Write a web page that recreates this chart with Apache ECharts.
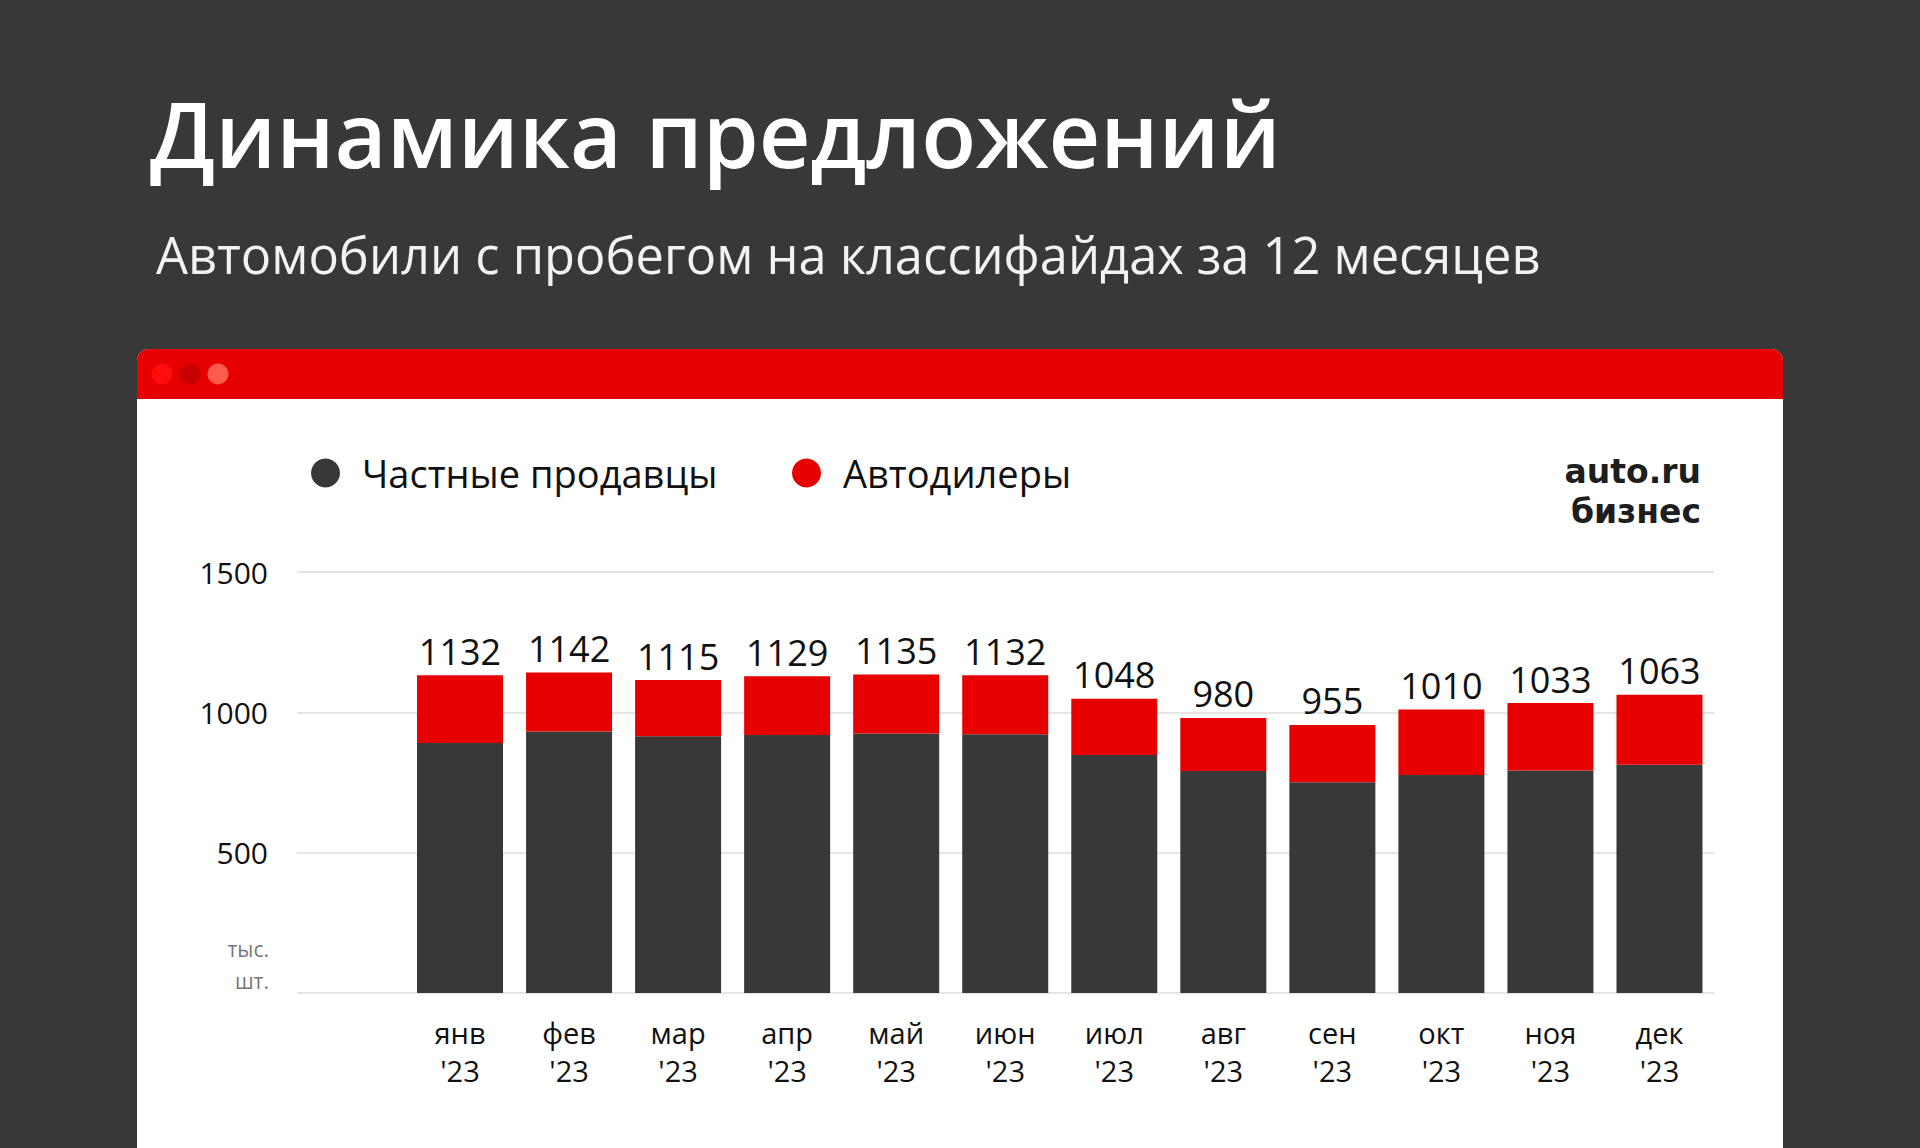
<!DOCTYPE html>
<html><head><meta charset="utf-8">
<script src="https://cdn.jsdelivr.net/npm/echarts@6/dist/echarts.min.js"></script>
<style>html,body{margin:0;padding:0;background:#383838;}#c{width:1920px;height:1148px;}</style>
</head><body><div id="c"></div>
<script>
const months = ['янв','фев','мар','апр','май','июн','июл','авг','сен','окт','ноя','дек'];
const yearLabel = "'23";
const privateSellers = [891, 932, 915, 919, 925, 922, 848, 791, 751, 777, 793, 813];
const dealers = [241, 210, 200, 210, 210, 210, 200, 189, 204, 233, 240, 250];
const totals = [1132, 1142, 1115, 1129, 1135, 1132, 1048, 980, 955, 1010, 1033, 1063];
const seriesNames = ['Частные продавцы', 'Автодилеры'];
const titleText = 'Динамика предложений';
const subtitleText = 'Автомобили с пробегом на классифайдах за 12 месяцев';
const unitLines = ['тыс.', 'шт.'];
const logoLines = ['auto.ru', 'бизнес'];
const yMin = 0, yMax = 1500, yStep = 500;

const categories = months.map(m => m + '\n' + yearLabel);
const FONT = '"Open Sans", "Noto Sans", sans-serif';
const LOGO_FONT = '"DejaVu Sans", "Open Sans", sans-serif';
const DARK = '#383838', RED = '#e60000';

const chart = echarts.init(document.getElementById('c'), null, {renderer: 'svg', width: 1920, height: 1148});
const option = {
  backgroundColor: DARK,
  textStyle: {fontFamily: FONT},
  animation: false,
  graphic: [
    {type: 'rect', z: -100, shape: {x: 137, y: 349, width: 1646, height: 900, r: [12, 12, 0, 0]}, style: {fill: '#ffffff'}},
    {type: 'rect', z: -99, shape: {x: 137, y: 349, width: 1646, height: 50, r: [12, 12, 0, 0]}, style: {fill: RED}},
    {type: 'circle', z: -98, shape: {cx: 162, cy: 374, r: 10.5}, style: {fill: '#ff0d0d'}},
    {type: 'circle', z: -98, shape: {cx: 190, cy: 374, r: 10.5}, style: {fill: '#c80000'}},
    {type: 'circle', z: -98, shape: {cx: 218, cy: 374, r: 10.5}, style: {fill: '#ff5a4c'}},
    {type: 'text', x: 150, y: 133, style: {text: titleText, fontFamily: FONT, fontSize: 90, fontWeight: 600, fill: '#ffffff', verticalAlign: 'middle'}},
    {type: 'text', x: 156, y: 254, style: {text: subtitleText, fontFamily: FONT, fontSize: 50.6, fontWeight: 400, fill: '#f2f2f2', verticalAlign: 'middle'}},
    {type: 'text', x: 1701, y: 471, style: {text: logoLines[0], fontFamily: LOGO_FONT, fontSize: 33, lineHeight: 33, fontWeight: 700, fill: '#1e1e1e', align: 'right', verticalAlign: 'middle'}},
    {type: 'text', x: 1701, y: 511, style: {text: logoLines[1], fontFamily: LOGO_FONT, fontSize: 33, lineHeight: 33, fontWeight: 700, fill: '#1e1e1e', align: 'right', verticalAlign: 'middle'}},
    {type: 'text', x: 269, y: 949, style: {text: unitLines[0], fontFamily: FONT, fontSize: 21, fill: '#777777', align: 'right', verticalAlign: 'middle'}},
    {type: 'text', x: 269, y: 981, style: {text: unitLines[1], fontFamily: FONT, fontSize: 21, fill: '#777777', align: 'right', verticalAlign: 'middle'}}
  ],
  legend: [
    {data: [seriesNames[0]], left: 306, top: 449, icon: 'circle', itemWidth: 29, itemHeight: 29,
     textStyle: {fontSize: 38, color: '#111', fontFamily: FONT, padding: [0, 0, 0, 17]}},
    {data: [seriesNames[1]], left: 787, top: 449, icon: 'circle', itemWidth: 29, itemHeight: 29,
     textStyle: {fontSize: 38, color: '#111', fontFamily: FONT, padding: [0, 0, 0, 17]}}
  ],
  grid: [
    {left: 297, right: 206, top: 572, bottom: 155},
    {left: 405.5, right: 206, top: 572, bottom: 155}
  ],
  xAxis: [
    {gridIndex: 0, type: 'category', data: categories, show: false},
    {gridIndex: 1, type: 'category', data: categories, axisLine: {show: false}, axisTick: {show: false},
     axisLabel: {fontSize: 29, lineHeight: 38, color: '#111', margin: 20, fontFamily: FONT}}
  ],
  yAxis: [
    {gridIndex: 0, type: 'value', min: yMin, max: yMax, interval: yStep,
     axisLine: {show: false}, axisTick: {show: false},
     axisLabel: {fontSize: 30, color: '#111', margin: 29, fontFamily: FONT,
                 formatter: v => (v === yMin ? '' : String(v))},
     splitLine: {lineStyle: {color: '#dcdcdc', width: 1.5}}},
    {gridIndex: 1, type: 'value', min: yMin, max: yMax, interval: yStep, show: false}
  ],
  series: [
    {name: seriesNames[0], type: 'bar', stack: 'total', xAxisIndex: 1, yAxisIndex: 1, barWidth: 86,
     data: privateSellers, itemStyle: {color: DARK}},
    {name: seriesNames[1], type: 'bar', stack: 'total', xAxisIndex: 1, yAxisIndex: 1, barWidth: 86,
     data: dealers, itemStyle: {color: RED},
     label: {show: true, position: 'top', distance: 6, fontSize: 36, color: '#111', fontFamily: FONT,
             formatter: p => String(totals[p.dataIndex])}}
  ]
};
chart.setOption(option);
</script></body></html>
